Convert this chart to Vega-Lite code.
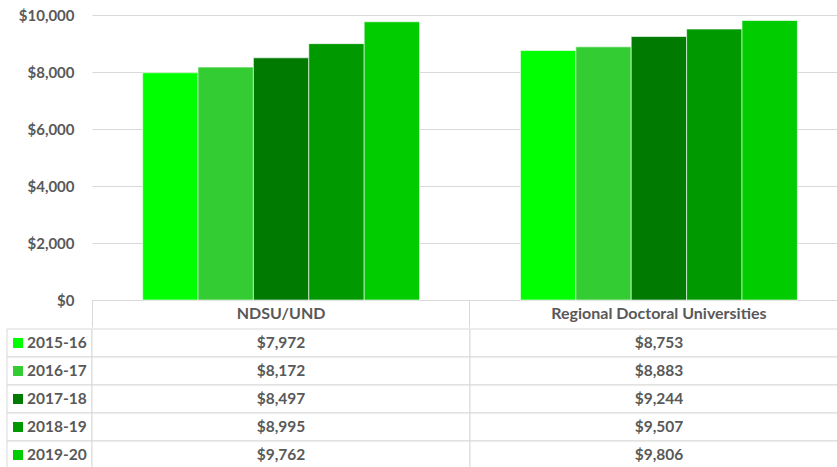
{
  "$schema": "https://vega.github.io/schema/vega-lite/v6.json",
  "padding": {"left": 6, "top": 8, "right": 0, "bottom": 0},
  "background": "white",
  "config": {"view": {"stroke": null}, "font": "Lato"},
  "datasets": {
    "t": [
      {"group": "NDSU/UND", "year": "2015-16", "value": 7972},
      {"group": "NDSU/UND", "year": "2016-17", "value": 8172},
      {"group": "NDSU/UND", "year": "2017-18", "value": 8497},
      {"group": "NDSU/UND", "year": "2018-19", "value": 8995},
      {"group": "NDSU/UND", "year": "2019-20", "value": 9762},
      {"group": "Regional Doctoral Universities", "year": "2015-16", "value": 8753},
      {"group": "Regional Doctoral Universities", "year": "2016-17", "value": 8883},
      {"group": "Regional Doctoral Universities", "year": "2017-18", "value": 9244},
      {"group": "Regional Doctoral Universities", "year": "2018-19", "value": 9507},
      {"group": "Regional Doctoral Universities", "year": "2019-20", "value": 9806}
    ],
    "blank": [{"k": ""}]
  },
  "spacing": 0,
  "vconcat": [
    {
      "spacing": 0,
      "bounds": "flush",
      "hconcat": [
        {
          "data": {"name": "blank"},
          "width": 85,
          "height": 285,
          "mark": {"type": "text", "opacity": 0},
          "encoding": {"text": {"field": "k"}}
        },
        {
          "data": {"name": "t"},
          "width": 756,
          "height": 285,
          "mark": {"type": "bar", "stroke": "white", "strokeWidth": 0.6},
          "encoding": {
            "x": {"field": "group", "type": "nominal", "sort": null,
              "scale": {"paddingInner": 0.267, "paddingOuter": 0.134},
              "axis": {"title": null, "labelAngle": 0, "bandPosition": -0.1825, "tickSize": 27, "tickColor": "#d9d9d9", "tickWidth": 1, "domainColor": "#d9d9d9", "labelBaseline": "middle", "labelPadding": -13.5, "labelFontSize": 16, "labelFontWeight": "bold", "labelColor": "#595959", "labelAlign": "center", "labelLimit": 500}},
            "xOffset": {"field": "year", "type": "nominal", "sort": null, "scale": {"paddingInner": 0, "paddingOuter": 0}},
            "y": {"field": "value", "type": "quantitative", "scale": {"domain": [0, 10000]},
              "axis": {"title": null, "format": "$,.0f", "values": [0, 2000, 4000, 6000, 8000, 10000], "domain": false, "ticks": false, "labelPadding": 18, "labelFontSize": 15, "labelFontWeight": "bold", "labelColor": "#595959", "gridColor": "#d9d9d9"}},
            "color": {"field": "year", "type": "nominal", "legend": null,
              "scale": {"domain": ["2015-16", "2016-17", "2017-18", "2018-19", "2019-20"], "range": ["#00ff00", "#33cc33", "#007a00", "#009900", "#00cc00"]}}
          }
        }
      ]
    },
    {
      "spacing": 0,
      "bounds": "flush",
      "hconcat": [
        {
          "data": {"name": "t"},
          "transform": [{"filter": "datum.group == 'NDSU/UND'"}],
          "width": 85,
          "height": 140,
          "encoding": {
            "y": {"field": "year", "type": "nominal", "axis": null, "scale": {"domain": ["2015-16", "2016-17", "2017-18", "2018-19", "2019-20"], "paddingInner": 0, "paddingOuter": 0}},
            "x": {"datum": "k", "type": "nominal", "axis": null, "scale": {"paddingInner": 0, "paddingOuter": 0}}
          },
          "layer": [
            {"mark": {"type": "rect", "fill": "white", "stroke": "#d9d9d9", "strokeWidth": 1}},
            {"mark": {"type": "point", "shape": "square", "filled": true, "size": 100, "opacity": 1, "xOffset": 11},
             "encoding": {
               "x": {"datum": "k", "type": "nominal", "bandPosition": 0},
               "color": {"field": "year", "type": "nominal", "legend": null,
                 "scale": {"domain": ["2015-16", "2016-17", "2017-18", "2018-19", "2019-20"], "range": ["#00ff00", "#33cc33", "#007a00", "#009900", "#00cc00"]}}
             }},
            {"mark": {"type": "text", "align": "left", "dx": 20, "fontSize": 15.5, "fontWeight": "bold", "color": "#595959"},
             "encoding": {
               "x": {"datum": "k", "type": "nominal", "bandPosition": 0},
               "text": {"field": "year"}
             }}
          ]
        },
        {
          "data": {"name": "t"},
          "width": 756,
          "height": 140,
          "encoding": {
            "x": {"field": "group", "type": "nominal", "sort": null, "axis": null, "scale": {"paddingInner": 0, "paddingOuter": 0}},
            "y": {"field": "year", "type": "nominal", "axis": null, "scale": {"domain": ["2015-16", "2016-17", "2017-18", "2018-19", "2019-20"], "paddingInner": 0, "paddingOuter": 0}}
          },
          "layer": [
            {"mark": {"type": "rect", "fill": "white", "stroke": "#d9d9d9", "strokeWidth": 1}},
            {"mark": {"type": "text", "fontSize": 15.5, "fontWeight": "bold", "color": "#595959"},
             "encoding": {"text": {"field": "value", "type": "quantitative", "format": "$,.0f"}}}
          ]
        }
      ]
    }
  ]
}
